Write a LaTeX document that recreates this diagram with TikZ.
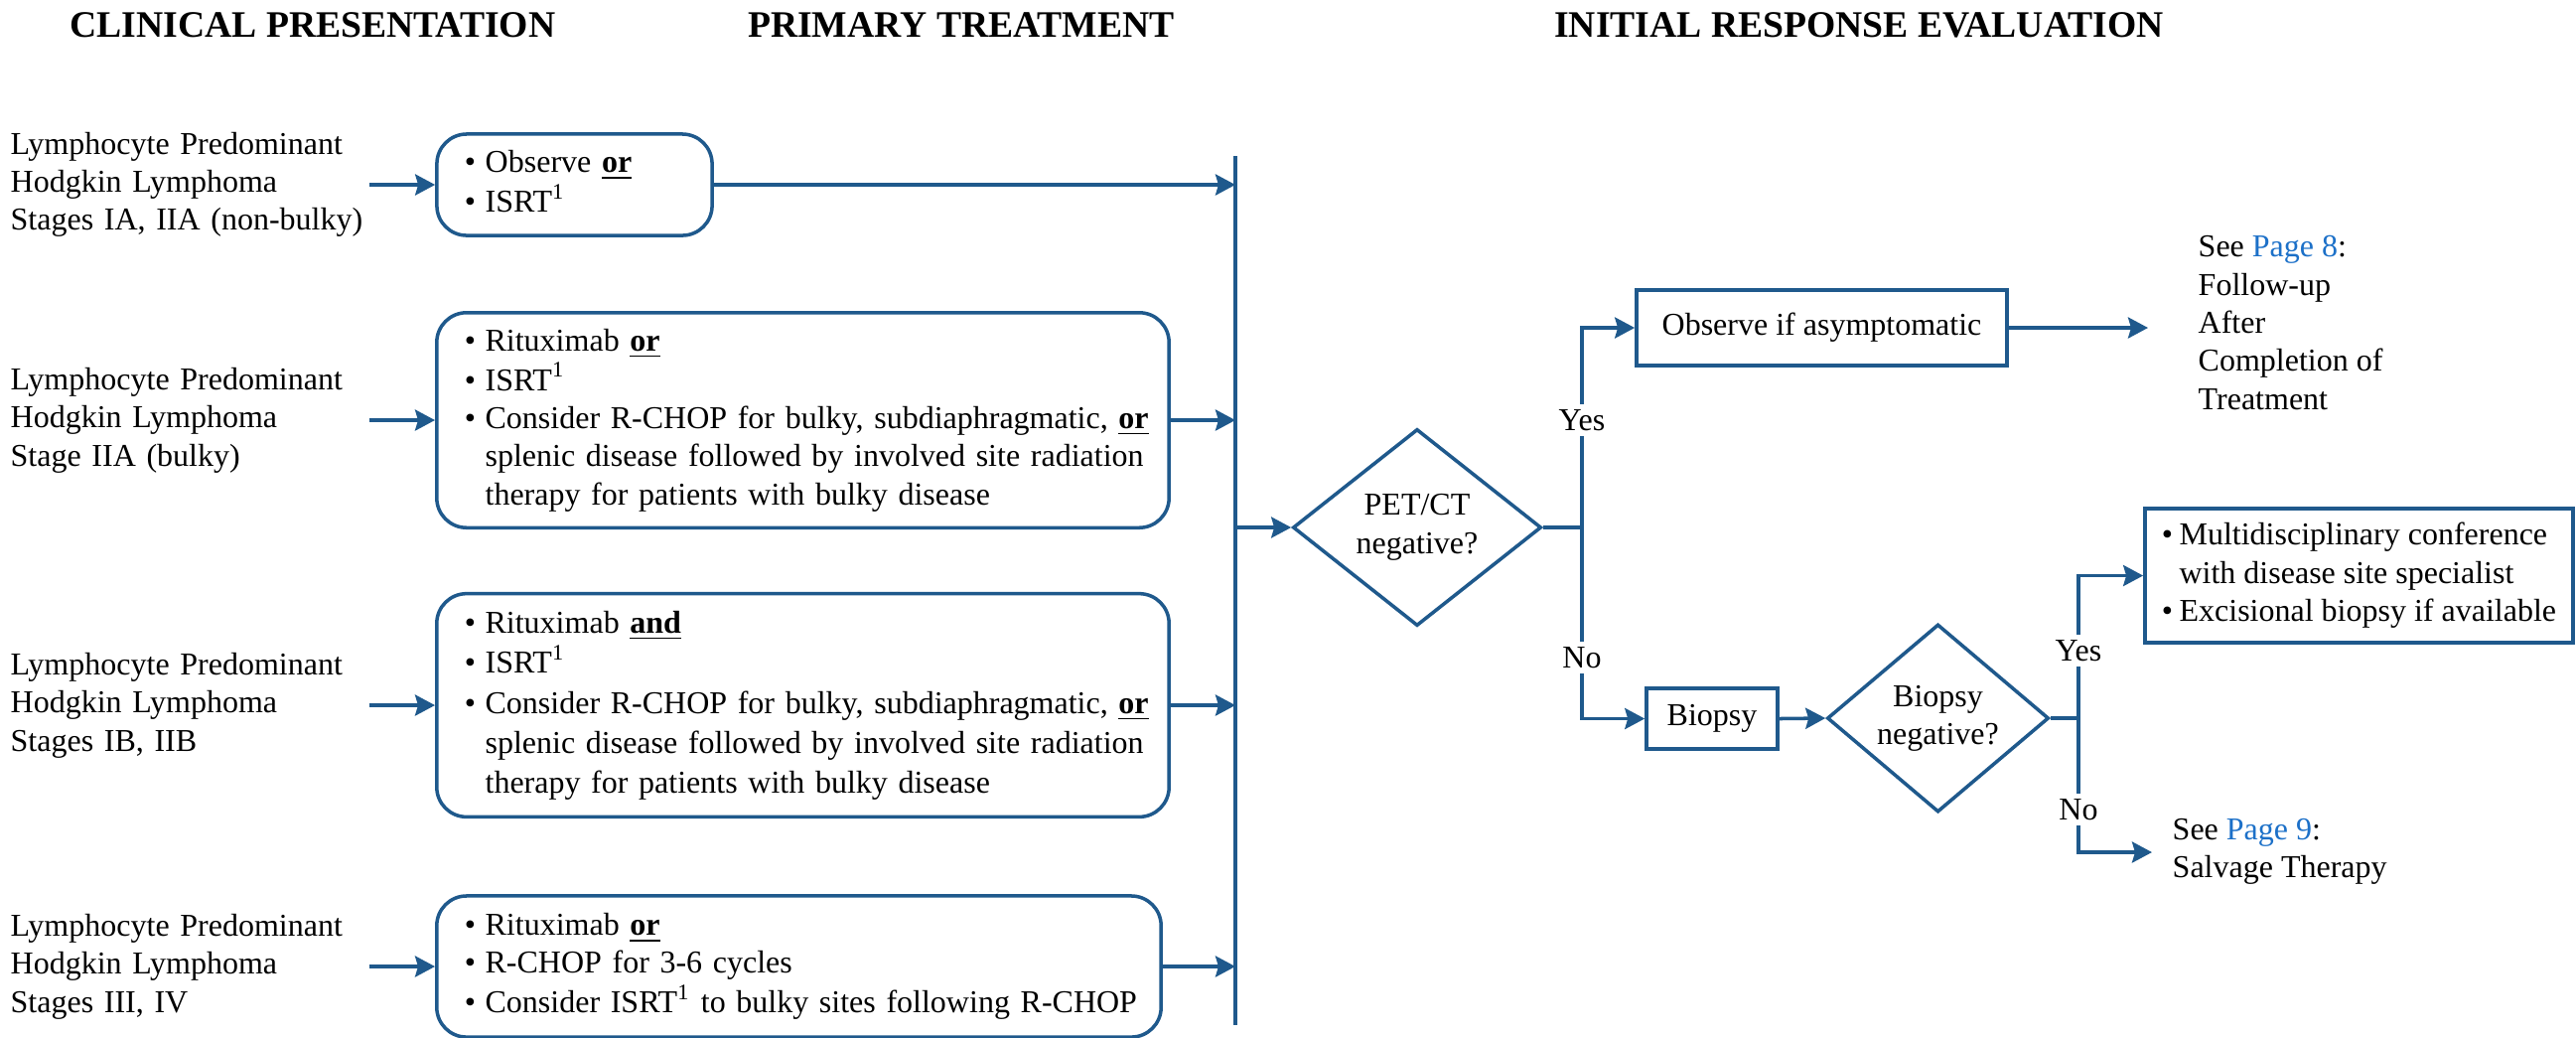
\documentclass[tikz,border=0pt]{standalone}
\usepackage{fontspec}
\setmainfont{Liberation Serif}
\usetikzlibrary{arrows.meta,shapes.geometric,positioning}
\definecolor{flowblue}{RGB}{31,89,140}
\definecolor{linkblue}{RGB}{28,112,200}
\newcommand{\uor}{\underline{\textbf{or}}}
\newcommand{\uand}{\underline{\textbf{and}}}
\newcommand{\isrt}{ISRT\textsuperscript{1}}
\newcommand{\bodyfont}{\fontsize{9.1pt}{10.9pt}\selectfont}
\newcommand{\headfont}{\fontsize{10.7pt}{12pt}\selectfont\bfseries}

\begin{document}
\begin{tikzpicture}[x=0.01cm, y=-0.01cm, font=\bodyfont,
    line/.style={draw=flowblue, line width=1pt},
    arr/.style={line, -{Stealth[length=0.2cm, width=0.21cm, inset=0.03cm]}},
    head/.style={font=\headfont},
    pres/.style={anchor=west, align=left, text width=3.6cm, inner sep=0pt},
    rbox/.style={line, rounded corners=0.3cm, inner xsep=0.28cm, align=left},
    sbox/.style={line, inner sep=0.1cm, align=center},
    dec/.style={line, diamond, inner sep=0pt, align=center},
    lbl/.style={fill=white, inner sep=0.05cm},
    dest/.style={anchor=west, align=left, inner sep=0pt}]
\useasboundingbox (0,0) rectangle (2594,1044);

% column heads
\node[head] (hpres) at (315,25) {CLINICAL PRESENTATION};
\node[head] (htreat) at (968,25) {PRIMARY TREATMENT};
\node[head] (heval) at (1872,25) {INITIAL RESPONSE EVALUATION};

% clinical presentation
\node[pres] (p1) at (10,186) {Lymphocyte Predominant\\Hodgkin Lymphoma\\Stages IA, IIA (non-bulky)};
\node[pres] (p2) at (10,423) {Lymphocyte Predominant\\Hodgkin Lymphoma\\Stage IIA (bulky)};
\node[pres] (p3) at (10,710) {Lymphocyte Predominant\\Hodgkin Lymphoma\\Stages IB, IIB};
\node[pres] (p4) at (10,973) {Lymphocyte Predominant\\Hodgkin Lymphoma\\Stages III, IV};

% primary treatment
\node[rbox, text width=2.21cm, minimum height=1.02cm] (b1) at (578.5,186)
  {\begin{tabular}{@{}l@{\hspace{0.3em}}l@{}}
   \textbullet & Observe \uor\\
   \textbullet & \isrt
   \end{tabular}};
\node[rbox, text width=6.81cm, minimum height=2.15cm] (b2) at (808.5,423)
  {\begin{tabular}{@{}l@{\hspace{0.3em}}l@{}}
   \textbullet & Rituximab \uor\\
   \textbullet & \isrt\\
   \textbullet & Consider R-CHOP for bulky, subdiaphragmatic, \uor\\
   & splenic disease followed by involved site radiation\\
   & therapy for patients with bulky disease
   \end{tabular}};
\node[rbox, text width=6.81cm, minimum height=2.10cm] (b3) at (808.5,710)
  {\renewcommand{\arraystretch}{1.05}%
   \begin{tabular}{@{}l@{\hspace{0.3em}}l@{}}
   \textbullet & Rituximab \uand\\
   \textbullet & \isrt\\
   \textbullet & Consider R-CHOP for bulky, subdiaphragmatic, \uor\\
   & splenic disease followed by involved site radiation\\
   & therapy for patients with bulky disease
   \end{tabular}};
\node[rbox, text width=6.73cm, minimum height=1.42cm] (b4) at (804.5,973)
  {\begin{tabular}{@{}l@{\hspace{0.3em}}l@{}}
   \textbullet & Rituximab \uor\\
   \textbullet & R-CHOP for 3-6 cycles\\
   \textbullet & Consider \isrt{} to bulky sites following R-CHOP
   \end{tabular}};

% collecting line
\coordinate (busT) at (1244,157);
\coordinate (busB) at (1244,1032);
\draw[line] (busT) -- (busB);
\foreach \i in {1,...,4} {
  \draw[arr] (p\i.east) -- (b\i.west);
  \draw[arr] (b\i.east) -- (b\i.east -| busT);
}

% response evaluation
\node[dec, minimum width=2.5cm, minimum height=1.98cm] (pet) at (1427,531) {PET/CT\\negative?};
\node[sbox, minimum width=3.73cm, minimum height=0.76cm] (obs) at (1834.5,330) {Observe if asymptomatic};
\node[sbox, minimum width=1.32cm, minimum height=0.61cm] (bx) at (1724,723.5) {Biopsy};
\node[dec, minimum width=2.23cm, minimum height=1.72cm] (bneg) at (1951.5,723) {Biopsy\\negative?};
\node[sbox, minimum width=4.31cm, minimum height=1.35cm] (mdc) at (2375.5,579.5)
  {\begin{tabular}{@{}l@{\hspace{0.2em}}l@{}}
   \textbullet & Multidisciplinary conference\\
   & with disease site specialist\\
   \textbullet & Excisional biopsy if available
   \end{tabular}};
\node[dest] (pg8) at (2213,325) {See \textcolor{linkblue}{Page 8}:\\Follow-up\\After\\Completion of\\Treatment};
\node[dest] (pg9) at (2187,857) {See \textcolor{linkblue}{Page 9}:\\Salvage Therapy};

\draw[arr] (pet.west -| busT) -- (pet.west);
\coordinate (j1) at (1593,531);
\draw[line] (pet.east) -- (j1);
\draw[arr] (j1) |- (obs.west);
\draw[arr] (j1) |- (bx.west);
\coordinate (pg8in) at (2163,330);
\draw[arr] (obs.east) -- (pg8in);
\draw[arr] (bx.east) -- (bneg.west);
\coordinate (j2) at (2093,723);
\draw[line] (bneg.east) -- (j2);
\draw[arr] (j2) |- (mdc.west);
\coordinate (pg9in) at (2167,858);
\draw[arr] (j2) |- (pg9in);

\node[lbl] (yes1) at (1593,423) {Yes};
\node[lbl] (no1) at (1593,662) {No};
\node[lbl] (yes2) at (2093,655) {Yes};
\node[lbl] (no2) at (2093,815) {No};
\end{tikzpicture}
\end{document}
